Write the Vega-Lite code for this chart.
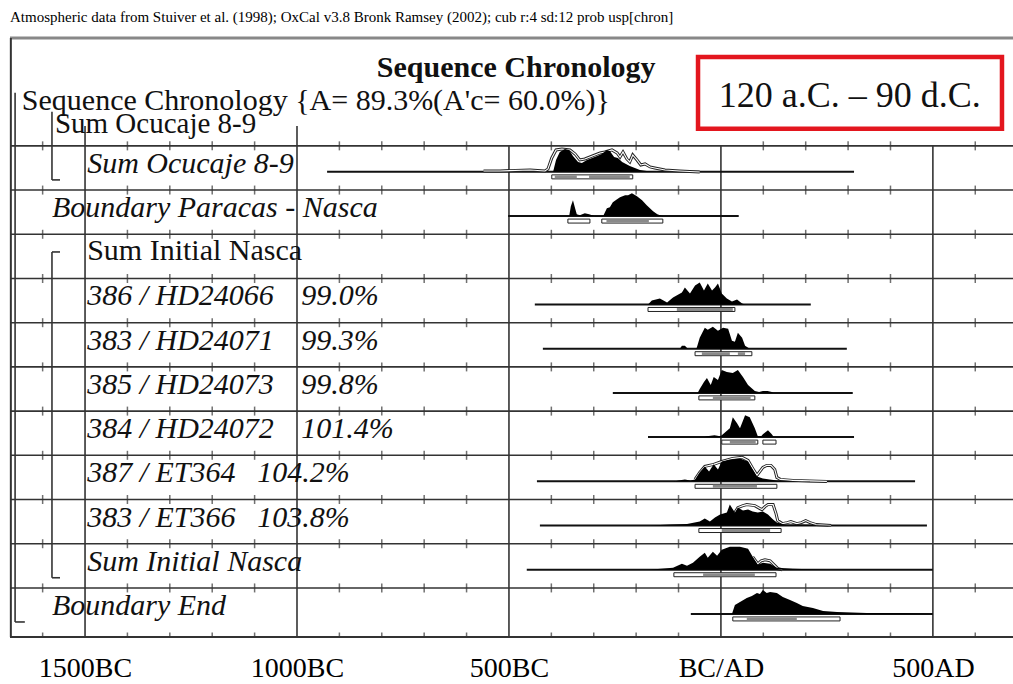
{
  "$schema": "https://vega.github.io/schema/vega-lite/v6.json",
  "width": 1003,
  "height": 599,
  "autosize": "none",
  "padding": {"left": 10, "top": 38, "right": 0, "bottom": 47},
  "background": "white",
  "config": {"view": {"stroke": null}},
  "title": {"text": "Atmospheric data from Stuiver et al. (1998); OxCal v3.8 Bronk Ramsey (2002); cub r:4 sd:12 prob usp[chron]", "anchor": "start", "frame": "group", "font": "Liberation Serif", "fontSize": 15, "fontWeight": "normal", "color": "#000", "offset": 12},
  "datasets": {
    "grid": [{"yr": -1500, "y1": -0.45}, {"yr": -1000, "y1": -0.45}, {"yr": -500, "y1": 0}, {"yr": 0, "y1": 0}, {"yr": 500, "y1": 0}],
    "rows": [{"r": 0}, {"r": 1}, {"r": 2}, {"r": 3}, {"r": 4}, {"r": 5}, {"r": 6}, {"r": 7}, {"r": 8}, {"r": 9}, {"r": 10}],
    "ticks": [
      {"r": 0, "yrs": [-1600,-1400,-1300,-1200,-1100,-900,-800,-700,-600,-400,-300,-200,-100,100,200,300,400,600]},
      {"r": 1, "yrs": [-1600,-1400,-1300,-1200,-1100,-900,-800,-700,-600,-400,-300,-200,-100,100,200,300,400,600]},
      {"r": 2, "yrs": [-1600,-1400,-1300,-1200,-1100,-900,-800,-700,-600,-400,-300,-200,-100,100,200,300,400,600]},
      {"r": 3, "yrs": [-1600,-1400,-1300,-1200,-1100,-900,-800,-700,-600,-400,-300,-200,-100,100,200,300,400,600]},
      {"r": 4, "yrs": [-1600,-1400,-1300,-1200,-1100,-900,-800,-700,-600,-400,-300,-200,-100,100,200,300,400,600]},
      {"r": 5, "yrs": [-1600,-1400,-1300,-1200,-1100,-900,-800,-700,-600,-400,-300,-200,-100,100,200,300,400,600]},
      {"r": 6, "yrs": [-1600,-1400,-1300,-1200,-1100,-900,-800,-700,-600,-400,-300,-200,-100,100,200,300,400,600]},
      {"r": 7, "yrs": [-1600,-1400,-1300,-1200,-1100,-900,-800,-700,-600,-400,-300,-200,-100,100,200,300,400,600]},
      {"r": 8, "yrs": [-1600,-1400,-1300,-1200,-1100,-900,-800,-700,-600,-400,-300,-200,-100,100,200,300,400,600]},
      {"r": 9, "yrs": [-1600,-1400,-1300,-1200,-1100,-900,-800,-700,-600,-400,-300,-200,-100,100,200,300,400,600]},
      {"r": 10, "yrs": [-1600,-1400,-1300,-1200,-1100,-900,-800,-700,-600,-400,-300,-200,-100,100,200,300,400,600]},
      {"r": 11.11, "yrs": [-1600,-1400,-1300,-1200,-1100,-900,-800,-700,-600,-400,-300,-200,-100,100,200,300,400,600]}
    ],
    "brackets": [
      {"x1": -1665, "y1": -1.2, "x2": -1665, "y2": 10.77},
      {"x1": -1665, "y1": 10.77, "x2": -1642, "y2": 10.77},
      {"x1": -1578, "y1": -0.77, "x2": -1578, "y2": 0.77},
      {"x1": -1578, "y1": 0.77, "x2": -1559, "y2": 0.77},
      {"x1": -1578, "y1": 2.4, "x2": -1578, "y2": 9.77},
      {"x1": -1578, "y1": 2.4, "x2": -1559, "y2": 2.4},
      {"x1": -1578, "y1": 9.77, "x2": -1559, "y2": 9.77}
    ],
    "labelsIt": [{"r": 0, "t": "Sum Ocucaje 8-9"}, {"r": 3, "t": "386 / HD24066"}, {"r": 4, "t": "383 / HD24071"}, {"r": 5, "t": "385 / HD24073"}, {"r": 6, "t": "384 / HD24072"}, {"r": 7, "t": "387 / ET364"}, {"r": 8, "t": "383 / ET366"}, {"r": 9, "t": "Sum Initial Nasca"}],
    "labelsUp": [{"r": 2, "t": "Sum Initial Nasca"}],
    "labelsBd": [{"r": 1, "t": "Boundary Paracas - Nasca"}, {"r": 10, "t": "Boundary End"}],
    "pctHD": [{"r": 3, "t": "99.0%"}, {"r": 4, "t": "99.3%"}, {"r": 5, "t": "99.8%"}, {"r": 6, "t": "101.4%"}],
    "pctET": [{"r": 7, "t": "104.2%"}, {"r": 8, "t": "103.8%"}],
    "bases": [{"s": 0, "from": -929, "to": 314}, {"s": 1, "from": -502, "to": 42}, {"s": 3, "from": -439, "to": 212}, {"s": 4, "from": -420, "to": 297}, {"s": 5, "from": -255, "to": 311}, {"s": 6, "from": -172, "to": 314}, {"s": 7, "from": -434, "to": 458}, {"s": 8, "from": -427, "to": 486}, {"s": 9, "from": -458, "to": 500}, {"s": 10, "from": -71, "to": 500}],
    "r95": [{"s": 0, "lo": -399, "hi": -208}, {"s": 1, "lo": -361, "hi": -309}, {"s": 1, "lo": -281, "hi": -137}, {"s": 3, "lo": -172, "hi": 33}, {"s": 4, "lo": -61, "hi": 73}, {"s": 5, "lo": -52, "hi": 80}, {"s": 6, "lo": 2, "hi": 87}, {"s": 6, "lo": 99, "hi": 130}, {"s": 7, "lo": -61, "hi": 132}, {"s": 8, "lo": -52, "hi": 142}, {"s": 9, "lo": -111, "hi": 130}, {"s": 10, "lo": 28, "hi": 281}],
    "r68": [{"s": 0, "lo": -392, "hi": -340}, {"s": 0, "lo": -311, "hi": -215}, {"s": 1, "lo": -270, "hi": -170}, {"s": 3, "lo": -104, "hi": 28}, {"s": 4, "lo": -45, "hi": 21}, {"s": 4, "lo": 40, "hi": 57}, {"s": 5, "lo": -19, "hi": 70}, {"s": 6, "lo": 21, "hi": 82}, {"s": 7, "lo": -19, "hi": 85}, {"s": 8, "lo": 2, "hi": 116}, {"s": 9, "lo": -42, "hi": 80}, {"s": 10, "lo": 61, "hi": 179}],
    "outl": [
      {"s":0,"x":-560,"y":0.567},{"s":0,"x":-521,"y":0.567},{"s":0,"x":-450,"y":0.545},{"s":0,"x":-415,"y":0.567},{"s":0,"x":-408,"y":0.522},{"s":0,"x":-399,"y":0.273},{"s":0,"x":-389,"y":0.092},{"s":0,"x":-375,"y":0.07},{"s":0,"x":-356,"y":0.092},{"s":0,"x":-344,"y":0.183},{"s":0,"x":-333,"y":0.319},{"s":0,"x":-321,"y":0.296},{"s":0,"x":-309,"y":0.251},{"s":0,"x":-297,"y":0.205},{"s":0,"x":-285,"y":0.16},{"s":0,"x":-274,"y":0.138},{"s":0,"x":-257,"y":0.092},{"s":0,"x":-245,"y":0.16},{"s":0,"x":-238,"y":0.251},{"s":0,"x":-231,"y":0.138},{"s":0,"x":-222,"y":0.296},{"s":0,"x":-215,"y":0.364},{"s":0,"x":-208,"y":0.205},{"s":0,"x":-198,"y":0.319},{"s":0,"x":-189,"y":0.432},{"s":0,"x":-179,"y":0.409},{"s":0,"x":-167,"y":0.477},{"s":0,"x":-156,"y":0.5},{"s":0,"x":-132,"y":0.545},{"s":0,"x":-97,"y":0.567},{"s":0,"x":-50,"y":0.59},
      {"s":7,"x":-61,"y":7.545},{"s":7,"x":-50,"y":7.386},{"s":7,"x":-38,"y":7.251},{"s":7,"x":-17,"y":7.205},{"s":7,"x":2,"y":7.138},{"s":7,"x":28,"y":7.07},{"s":7,"x":50,"y":7.047},{"s":7,"x":64,"y":7.115},{"s":7,"x":75,"y":7.296},{"s":7,"x":85,"y":7.454},{"s":7,"x":92,"y":7.364},{"s":7,"x":99,"y":7.273},{"s":7,"x":108,"y":7.228},{"s":7,"x":118,"y":7.228},{"s":7,"x":127,"y":7.319},{"s":7,"x":132,"y":7.5},{"s":7,"x":140,"y":7.545},{"s":7,"x":170,"y":7.567},{"s":7,"x":210,"y":7.579},{"s":7,"x":250,"y":7.59},
      {"s":8,"x":33,"y":8.296},{"s":8,"x":40,"y":8.183},{"s":8,"x":52,"y":8.138},{"s":8,"x":61,"y":8.115},{"s":8,"x":80,"y":8.138},{"s":8,"x":92,"y":8.205},{"s":8,"x":97,"y":8.228},{"s":8,"x":104,"y":8.16},{"s":8,"x":111,"y":8.115},{"s":8,"x":123,"y":8.115},{"s":8,"x":130,"y":8.319},{"s":8,"x":134,"y":8.477},{"s":8,"x":145,"y":8.545},{"s":8,"x":156,"y":8.522},{"s":8,"x":165,"y":8.5},{"s":8,"x":179,"y":8.545},{"s":8,"x":190,"y":8.522},{"s":8,"x":200,"y":8.477},{"s":8,"x":210,"y":8.522},{"s":8,"x":225,"y":8.567},{"s":8,"x":260,"y":8.59},
      {"s":9,"x":75,"y":9.296},{"s":9,"x":87,"y":9.454},{"s":9,"x":95,"y":9.386},{"s":9,"x":104,"y":9.364},{"s":9,"x":116,"y":9.386},{"s":9,"x":128,"y":9.5},{"s":9,"x":135,"y":9.567},{"s":9,"x":145,"y":9.59}
    ],
    "dist": [
      {"s":0,"x":-396,"y":0.59},{"s":0,"x":-389,"y":0.319},{"s":0,"x":-380,"y":0.138},{"s":0,"x":-368,"y":0.07},{"s":0,"x":-358,"y":0.092},{"s":0,"x":-349,"y":0.228},{"s":0,"x":-337,"y":0.364},{"s":0,"x":-328,"y":0.386},{"s":0,"x":-316,"y":0.319},{"s":0,"x":-304,"y":0.273},{"s":0,"x":-292,"y":0.228},{"s":0,"x":-281,"y":0.183},{"s":0,"x":-269,"y":0.092},{"s":0,"x":-262,"y":0.115},{"s":0,"x":-252,"y":0.251},{"s":0,"x":-243,"y":0.273},{"s":0,"x":-233,"y":0.364},{"s":0,"x":-224,"y":0.409},{"s":0,"x":-215,"y":0.454},{"s":0,"x":-203,"y":0.5},{"s":0,"x":-191,"y":0.545},{"s":0,"x":-175,"y":0.567},{"s":0,"x":-144,"y":0.59},
      {"s":1,"x":-358,"y":1.59},{"s":1,"x":-354,"y":1.364},{"s":1,"x":-349,"y":1.228},{"s":1,"x":-344,"y":1.409},{"s":1,"x":-340,"y":1.545},{"s":1,"x":-333,"y":1.567},{"s":1,"x":-321,"y":1.522},{"s":1,"x":-311,"y":1.545},{"s":1,"x":-297,"y":1.59},{"s":1,"x":-278,"y":1.59},{"s":1,"x":-269,"y":1.409},{"s":1,"x":-262,"y":1.386},{"s":1,"x":-255,"y":1.273},{"s":1,"x":-245,"y":1.205},{"s":1,"x":-238,"y":1.16},{"s":1,"x":-226,"y":1.115},{"s":1,"x":-219,"y":1.115},{"s":1,"x":-210,"y":1.07},{"s":1,"x":-198,"y":1.138},{"s":1,"x":-186,"y":1.228},{"s":1,"x":-175,"y":1.341},{"s":1,"x":-160,"y":1.477},{"s":1,"x":-150,"y":1.545},{"s":1,"x":-137,"y":1.59},
      {"s":3,"x":-172,"y":3.59},{"s":3,"x":-163,"y":3.5},{"s":3,"x":-144,"y":3.454},{"s":3,"x":-127,"y":3.545},{"s":3,"x":-113,"y":3.432},{"s":3,"x":-92,"y":3.319},{"s":3,"x":-85,"y":3.205},{"s":3,"x":-73,"y":3.341},{"s":3,"x":-61,"y":3.16},{"s":3,"x":-50,"y":3.092},{"s":3,"x":-40,"y":3.273},{"s":3,"x":-31,"y":3.115},{"s":3,"x":-21,"y":3.273},{"s":3,"x":-14,"y":3.205},{"s":3,"x":-7,"y":3.115},{"s":3,"x":2,"y":3.341},{"s":3,"x":14,"y":3.454},{"s":3,"x":26,"y":3.522},{"s":3,"x":38,"y":3.477},{"s":3,"x":50,"y":3.567},{"s":3,"x":57,"y":3.59},
      {"s":4,"x":-97,"y":4.59},{"s":4,"x":-92,"y":4.522},{"s":4,"x":-85,"y":4.522},{"s":4,"x":-78,"y":4.59},{"s":4,"x":-60,"y":4.59},{"s":4,"x":-57,"y":4.567},{"s":4,"x":-50,"y":4.341},{"s":4,"x":-38,"y":4.115},{"s":4,"x":-31,"y":4.16},{"s":4,"x":-19,"y":4.092},{"s":4,"x":-7,"y":4.183},{"s":4,"x":5,"y":4.115},{"s":4,"x":17,"y":4.138},{"s":4,"x":26,"y":4.409},{"s":4,"x":33,"y":4.432},{"s":4,"x":40,"y":4.228},{"s":4,"x":50,"y":4.341},{"s":4,"x":57,"y":4.522},{"s":4,"x":68,"y":4.59},
      {"s":5,"x":-55,"y":5.59},{"s":5,"x":-50,"y":5.5},{"s":5,"x":-40,"y":5.341},{"s":5,"x":-33,"y":5.251},{"s":5,"x":-24,"y":5.409},{"s":5,"x":-17,"y":5.228},{"s":5,"x":-7,"y":5.296},{"s":5,"x":2,"y":5.07},{"s":5,"x":14,"y":5.115},{"s":5,"x":28,"y":5.138},{"s":5,"x":40,"y":5.07},{"s":5,"x":52,"y":5.228},{"s":5,"x":64,"y":5.409},{"s":5,"x":80,"y":5.545},{"s":5,"x":90,"y":5.567},{"s":5,"x":99,"y":5.545},{"s":5,"x":110,"y":5.545},{"s":5,"x":120,"y":5.567},{"s":5,"x":123,"y":5.59},
      {"s":6,"x":-40,"y":6.59},{"s":6,"x":-33,"y":6.567},{"s":6,"x":-15,"y":6.545},{"s":6,"x":-2,"y":6.567},{"s":6,"x":2,"y":6.545},{"s":6,"x":21,"y":6.386},{"s":6,"x":28,"y":6.138},{"s":6,"x":38,"y":6.273},{"s":6,"x":45,"y":6.386},{"s":6,"x":57,"y":6.092},{"s":6,"x":68,"y":6.138},{"s":6,"x":80,"y":6.386},{"s":6,"x":87,"y":6.567},{"s":6,"x":95,"y":6.567},{"s":6,"x":99,"y":6.522},{"s":6,"x":111,"y":6.432},{"s":6,"x":120,"y":6.522},{"s":6,"x":125,"y":6.59},
      {"s":7,"x":-110,"y":7.59},{"s":7,"x":-100,"y":7.567},{"s":7,"x":-85,"y":7.545},{"s":7,"x":-72,"y":7.567},{"s":7,"x":-61,"y":7.545},{"s":7,"x":-50,"y":7.386},{"s":7,"x":-38,"y":7.251},{"s":7,"x":-28,"y":7.364},{"s":7,"x":-17,"y":7.205},{"s":7,"x":-7,"y":7.319},{"s":7,"x":2,"y":7.138},{"s":7,"x":21,"y":7.092},{"s":7,"x":45,"y":7.07},{"s":7,"x":64,"y":7.138},{"s":7,"x":75,"y":7.319},{"s":7,"x":85,"y":7.477},{"s":7,"x":99,"y":7.522},{"s":7,"x":115,"y":7.545},{"s":7,"x":132,"y":7.567},{"s":7,"x":170,"y":7.579},{"s":7,"x":210,"y":7.59},
      {"s":8,"x":-167,"y":8.59},{"s":8,"x":-120,"y":8.567},{"s":8,"x":-80,"y":8.556},{"s":8,"x":-50,"y":8.5},{"s":8,"x":-38,"y":8.432},{"s":8,"x":-26,"y":8.5},{"s":8,"x":-14,"y":8.409},{"s":8,"x":-2,"y":8.341},{"s":8,"x":14,"y":8.296},{"s":8,"x":21,"y":8.115},{"s":8,"x":33,"y":8.296},{"s":8,"x":40,"y":8.183},{"s":8,"x":52,"y":8.251},{"s":8,"x":64,"y":8.228},{"s":8,"x":75,"y":8.273},{"s":8,"x":87,"y":8.296},{"s":8,"x":99,"y":8.273},{"s":8,"x":111,"y":8.341},{"s":8,"x":123,"y":8.454},{"s":8,"x":132,"y":8.522},{"s":8,"x":150,"y":8.567},{"s":8,"x":190,"y":8.567},{"s":8,"x":250,"y":8.579},{"s":8,"x":300,"y":8.59},
      {"s":9,"x":-170,"y":9.59},{"s":9,"x":-113,"y":9.545},{"s":9,"x":-92,"y":9.454},{"s":9,"x":-80,"y":9.5},{"s":9,"x":-66,"y":9.432},{"s":9,"x":-50,"y":9.296},{"s":9,"x":-38,"y":9.205},{"s":9,"x":-31,"y":9.319},{"s":9,"x":-19,"y":9.183},{"s":9,"x":-9,"y":9.273},{"s":9,"x":2,"y":9.138},{"s":9,"x":21,"y":9.07},{"s":9,"x":45,"y":9.07},{"s":9,"x":64,"y":9.115},{"s":9,"x":75,"y":9.296},{"s":9,"x":87,"y":9.477},{"s":9,"x":99,"y":9.432},{"s":9,"x":116,"y":9.454},{"s":9,"x":132,"y":9.545},{"s":9,"x":170,"y":9.567},{"s":9,"x":210,"y":9.579},{"s":9,"x":250,"y":9.59},
      {"s":10,"x":26,"y":10.59},{"s":10,"x":33,"y":10.386},{"s":10,"x":45,"y":10.319},{"s":10,"x":61,"y":10.228},{"s":10,"x":73,"y":10.183},{"s":10,"x":85,"y":10.115},{"s":10,"x":92,"y":10.138},{"s":10,"x":99,"y":10.047},{"s":10,"x":108,"y":10.115},{"s":10,"x":116,"y":10.092},{"s":10,"x":132,"y":10.115},{"s":10,"x":146,"y":10.205},{"s":10,"x":163,"y":10.273},{"s":10,"x":179,"y":10.341},{"s":10,"x":193,"y":10.409},{"s":10,"x":217,"y":10.454},{"s":10,"x":241,"y":10.522},{"s":10,"x":274,"y":10.545},{"s":10,"x":344,"y":10.567},{"s":10,"x":430,"y":10.574},{"s":10,"x":493,"y":10.59}
    ]
  },
  "layer": [
    {
      "data": {"name": "grid"},
      "mark": {"type": "rule", "color": "#333", "strokeWidth": 1.6},
      "encoding": {
        "x": {"field": "yr", "type": "quantitative", "scale": {"domain": [-1677, 689], "nice": false, "zero": false},
          "axis": {"values": [-1500, -1000, -500, 0, 500], "grid": false, "ticks": false, "domain": false, "title": null, "labelFont": "Liberation Serif", "labelFontSize": 28, "labelColor": "#000", "labelPadding": 17, "labelFlush": false, "labelOverlap": false,
            "labelExpr": "datum.value == 0 ? 'BC/AD' : (datum.value < 0 ? (-datum.value) + 'BC' : datum.value + 'AD')"}},
        "y": {"field": "y1", "type": "quantitative", "scale": {"domain": [-2.44, 11.11], "nice": false, "zero": false, "reverse": true}, "axis": null},
        "y2": {"datum": 11.11}
      }
    },
    {
      "data": {"name": "rows"},
      "mark": {"type": "rule", "color": "#333", "strokeWidth": 1.6},
      "encoding": {
        "x": {"datum": -1677, "type": "quantitative"},
        "x2": {"datum": 689},
        "y": {"field": "r", "type": "quantitative", "axis": null}
      }
    },
    {
      "data": {"values": [{"k": "top"}]},
      "mark": {"type": "rule", "color": "#888", "strokeWidth": 3},
      "encoding": {
        "x": {"datum": -1677, "type": "quantitative"},
        "x2": {"datum": 689},
        "y": {"datum": -2.44, "type": "quantitative", "axis": null}
      }
    },
    {
      "data": {"values": [{"k": "bottom"}]},
      "mark": {"type": "rule", "color": "#333", "strokeWidth": 2},
      "encoding": {
        "x": {"datum": -1677, "type": "quantitative"},
        "x2": {"datum": 689},
        "y": {"datum": 11.11, "type": "quantitative", "axis": null}
      }
    },
    {
      "data": {"values": [{"k": "left"}]},
      "mark": {"type": "rule", "color": "#333", "strokeWidth": 2},
      "encoding": {
        "x": {"datum": -1675, "type": "quantitative"},
        "y": {"datum": -2.44, "type": "quantitative", "axis": null},
        "y2": {"datum": 11.11}
      }
    },
    {
      "data": {"name": "ticks"},
      "transform": [{"flatten": ["yrs"]}],
      "mark": {"type": "tick", "orient": "vertical", "size": 9, "thickness": 1.5, "color": "#333", "clip": true},
      "encoding": {
        "x": {"field": "yrs", "type": "quantitative", "title": null},
        "y": {"field": "r", "type": "quantitative", "axis": null}
      }
    },
    {
      "data": {"name": "brackets"},
      "mark": {"type": "rule", "color": "#333", "strokeWidth": 1.6},
      "encoding": {
        "x": {"field": "x1", "type": "quantitative", "title": null},
        "x2": {"field": "x2"},
        "y": {"field": "y1", "type": "quantitative", "axis": null},
        "y2": {"field": "y2"}
      }
    },
    {
      "data": {"values": [{"k": "box"}]},
      "mark": {"type": "rect", "fill": "white", "stroke": "#e3161e", "strokeWidth": 4.5},
      "encoding": {
        "x": {"datum": -54, "type": "quantitative"},
        "x2": {"datum": 663},
        "y": {"datum": -2.01, "type": "quantitative", "axis": null},
        "y2": {"datum": -0.385}
      }
    },
    {
      "data": {"values": [{"t": "120 a.C. – 90 d.C."}]},
      "mark": {"type": "text", "font": "Liberation Serif", "fontSize": 36, "color": "#111", "align": "center", "baseline": "alphabetic"},
      "encoding": {
        "x": {"datum": 304, "type": "quantitative"},
        "y": {"datum": -0.88, "type": "quantitative", "axis": null},
        "text": {"field": "t"}
      }
    },
    {
      "data": {"values": [{"t": "Sequence Chronology"}]},
      "mark": {"type": "text", "font": "Liberation Serif", "fontSize": 30, "fontWeight": "bold", "color": "#111", "align": "center", "baseline": "alphabetic"},
      "encoding": {
        "x": {"datum": -483, "type": "quantitative"},
        "y": {"datum": -1.56, "type": "quantitative", "axis": null},
        "text": {"field": "t"}
      }
    },
    {
      "data": {"values": [{"t": "Sequence Chronology {A= 89.3%(A'c= 60.0%)}"}]},
      "mark": {"type": "text", "font": "Liberation Serif", "fontSize": 30, "color": "#111", "align": "left", "baseline": "alphabetic"},
      "encoding": {
        "x": {"datum": -1649, "type": "quantitative"},
        "y": {"datum": -0.8, "type": "quantitative", "axis": null},
        "text": {"field": "t"}
      }
    },
    {
      "data": {"values": [{"t": "Sum Ocucaje 8-9"}]},
      "mark": {"type": "text", "font": "Liberation Serif", "fontSize": 29, "color": "#111", "align": "left", "baseline": "alphabetic"},
      "encoding": {
        "x": {"datum": -1571, "type": "quantitative"},
        "y": {"datum": -0.3, "type": "quantitative", "axis": null},
        "text": {"field": "t"}
      }
    },
    {
      "data": {"name": "labelsIt"},
      "mark": {"type": "text", "font": "Liberation Serif", "fontSize": 30, "fontStyle": "italic", "color": "#111", "align": "left", "baseline": "alphabetic", "yOffset": 27},
      "encoding": {
        "x": {"datum": -1495, "type": "quantitative"},
        "y": {"field": "r", "type": "quantitative", "axis": null},
        "text": {"field": "t"}
      }
    },
    {
      "data": {"name": "labelsUp"},
      "mark": {"type": "text", "font": "Liberation Serif", "fontSize": 30, "color": "#111", "align": "left", "baseline": "alphabetic", "yOffset": 26},
      "encoding": {
        "x": {"datum": -1495, "type": "quantitative"},
        "y": {"field": "r", "type": "quantitative", "axis": null},
        "text": {"field": "t"}
      }
    },
    {
      "data": {"name": "labelsBd"},
      "mark": {"type": "text", "font": "Liberation Serif", "fontSize": 30, "fontStyle": "italic", "color": "#111", "align": "left", "baseline": "alphabetic", "yOffset": 27},
      "encoding": {
        "x": {"datum": -1578, "type": "quantitative"},
        "y": {"field": "r", "type": "quantitative", "axis": null},
        "text": {"field": "t"}
      }
    },
    {
      "data": {"name": "pctHD"},
      "mark": {"type": "text", "font": "Liberation Serif", "fontSize": 30, "fontStyle": "italic", "color": "#111", "align": "left", "baseline": "alphabetic", "yOffset": 27},
      "encoding": {
        "x": {"datum": -990, "type": "quantitative"},
        "y": {"field": "r", "type": "quantitative", "axis": null},
        "text": {"field": "t"}
      }
    },
    {
      "data": {"name": "pctET"},
      "mark": {"type": "text", "font": "Liberation Serif", "fontSize": 30, "fontStyle": "italic", "color": "#111", "align": "left", "baseline": "alphabetic", "yOffset": 27},
      "encoding": {
        "x": {"datum": -1094, "type": "quantitative"},
        "y": {"field": "r", "type": "quantitative", "axis": null},
        "text": {"field": "t"}
      }
    },
    {
      "data": {"name": "bases"},
      "mark": {"type": "rule", "color": "#111", "strokeWidth": 2, "yOffset": 26},
      "encoding": {
        "x": {"field": "from", "type": "quantitative", "title": null},
        "x2": {"field": "to"},
        "y": {"field": "s", "type": "quantitative", "axis": null}
      }
    },
    {
      "data": {"name": "outl"},
      "mark": {"type": "line", "color": "#222", "strokeWidth": 3, "interpolate": "linear"},
      "encoding": {
        "x": {"field": "x", "type": "quantitative", "title": null},
        "y": {"field": "y", "type": "quantitative", "axis": null},
        "detail": {"field": "s", "type": "nominal"}
      }
    },
    {
      "data": {"name": "outl"},
      "mark": {"type": "line", "color": "white", "strokeWidth": 1.1, "interpolate": "linear"},
      "encoding": {
        "x": {"field": "x", "type": "quantitative", "title": null},
        "y": {"field": "y", "type": "quantitative", "axis": null},
        "detail": {"field": "s", "type": "nominal"}
      }
    },
    {
      "data": {"name": "dist"},
      "mark": {"type": "area", "color": "#000", "orient": "vertical", "y2Offset": 26, "interpolate": "linear"},
      "encoding": {
        "x": {"field": "x", "type": "quantitative", "title": null},
        "y": {"field": "y", "type": "quantitative", "axis": null},
        "y2": {"field": "s"},
        "detail": {"field": "s", "type": "nominal"}
      }
    },
    {
      "data": {"name": "r95"},
      "mark": {"type": "rect", "fill": "white", "stroke": "#222", "strokeWidth": 1, "yOffset": 29, "y2Offset": 33},
      "encoding": {
        "x": {"field": "lo", "type": "quantitative", "title": null},
        "x2": {"field": "hi"},
        "y": {"field": "s", "type": "quantitative", "axis": null},
        "y2": {"field": "s"}
      }
    },
    {
      "data": {"name": "r68"},
      "mark": {"type": "rect", "fill": "#8a8a8a", "yOffset": 29.5, "y2Offset": 32.5},
      "encoding": {
        "x": {"field": "lo", "type": "quantitative", "title": null},
        "x2": {"field": "hi"},
        "y": {"field": "s", "type": "quantitative", "axis": null},
        "y2": {"field": "s"}
      }
    }
  ]
}
